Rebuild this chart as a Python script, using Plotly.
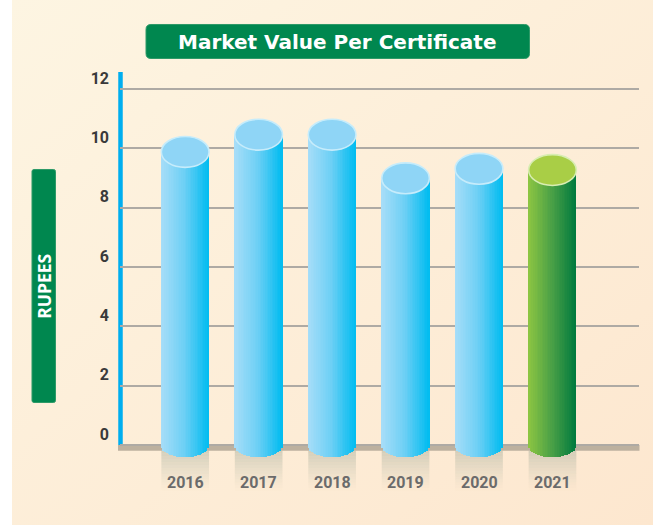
import base64
import numpy as np
import plotly.graph_objects as go

# ---------------- data ----------------
years = ["2016", "2017", "2018", "2019", "2020", "2021"]
values = [9.88, 10.46, 10.46, 8.99, 9.31, 9.27]
y_tick_vals = [0, 2, 4, 6, 8, 10, 12]
y_tick_text = ["0", "2", "4", "6", "8", "10", "12"]
highlight_year = "2021"
chart_title = "Market Value Per Certificate"
axis_label = "RUPEES"

# ---------------- geometry / style ----------------
W, H = 653, 525
ML, MR, MT, MB = 120, 14, 72, 20
PX0, PX1, PY0, PY1 = ML, W - MR, MT, H - MB
PX_PER_UNIT = 29.675
ZERO_PY = 445.1
Y_MAX = (ZERO_PY - PY0) / PX_PER_UNIT
Y_MIN = -(PY1 - ZERO_PY) / PX_PER_UNIT
X_RANGE = [-0.8875, 6.178]

BAR_W = 0.649
TOP_SEMI = 0.52
BOT_SEMI = 0.41
N_STRIPS = 28

GREEN = "#00874f"
NUM_FONT = "Roboto, Liberation Sans Narrow, sans-serif"
TITLE_FONT = "DejaVu Sans, Verdana, sans-serif"
LABEL_FONT = "Open Sans, Noto Sans, sans-serif"


def fx(px):
    return (px - PX0) / (PX1 - PX0)


def fy(py):
    return (PY1 - py) / (PY1 - PY0)


def lerp(c1, c2, t):
    return tuple(int(round(a + (b - a) * t)) for a, b in zip(c1, c2))


def rgb(c):
    return "rgb(%d,%d,%d)" % c


BLUE_STOPS = [(0.0, (168, 222, 248)), (0.5, (108, 207, 245)), (1.0, (0, 188, 240))]
GREEN_STOPS = [(0.0, (142, 198, 66)), (0.5, (74, 160, 70)), (1.0, (0, 122, 62))]


def grad(stops, t):
    for (t0, c0), (t1, c1) in zip(stops[:-1], stops[1:]):
        if t <= t1:
            return lerp(c0, c1, (t - t0) / (t1 - t0))
    return stops[-1][1]


# ---------------- cylinder strips (one bar trace) ----------------
bx, by, bb, bw, bc = [], [], [], [], []
for i, (yr, v) in enumerate(zip(years, values)):
    stops = GREEN_STOPS if yr == highlight_year else BLUE_STOPS
    for k in range(N_STRIPS):
        u = -1 + (2 * k + 1) / N_STRIPS
        bottom = -BOT_SEMI * np.sqrt(max(0.0, 1 - u * u))
        bx.append(i + u * BAR_W / 2)
        bb.append(bottom)
        by.append(v - bottom)
        bw.append(BAR_W / N_STRIPS * 1.12)
        bc.append(rgb(grad(stops, (k + 0.5) / N_STRIPS)))

fig = go.Figure(
    go.Bar(
        x=bx, y=by, base=bb, width=bw,
        marker=dict(color=bc, line=dict(width=0)),
        hoverinfo="skip", showlegend=False,
    )
)

shapes = []
# floor band
shapes.append(dict(type="rect", xref="paper", yref="y", x0=fx(118), x1=fx(639.5),
                   y0=0.0, y1=-0.19, fillcolor="#bdb19f", line=dict(width=0), layer="between"))
# blue axis line
shapes.append(dict(type="line", xref="paper", yref="y", x0=fx(120.5), x1=fx(120.5),
                   y0=0.0, y1=Y_MAX, line=dict(color="#00aeef", width=4.5), layer="between"))

# shadows under each cylinder
n_sh = 14
for i, v in enumerate(values):
    for s in range(n_sh):
        y0 = -0.19 - s * (1.35 / n_sh)
        y1 = y0 - 1.35 / n_sh
        op = 0.45 * (1 - s / n_sh) ** 1.3
        shapes.append(dict(type="rect", xref="x", yref="y",
                           x0=i - BAR_W / 2, x1=i + BAR_W / 2, y0=y0, y1=y1,
                           fillcolor="rgb(165,172,155)", opacity=op,
                           line=dict(width=0), layer="between"))

# top ellipses
for i, (yr, v) in enumerate(zip(years, values)):
    if yr == highlight_year:
        fill, edge = "#a9ce46", "#d8edb2"
    else:
        fill, edge = "#8fd5f6", "#c6ecfb"
    shapes.append(dict(type="circle", xref="x", yref="y",
                       x0=i - BAR_W / 2, x1=i + BAR_W / 2,
                       y0=v - TOP_SEMI, y1=v + TOP_SEMI,
                       fillcolor=fill, line=dict(color=edge, width=1.6), layer="above"))


def rounded_rect(x0, y0, x1, y1, r):
    pts = [
        ("M", [(x0 + r, y0)]), ("L", [(x1 - r, y0)]), ("Q", [(x1, y0), (x1, y0 + r)]),
        ("L", [(x1, y1 - r)]), ("Q", [(x1, y1), (x1 - r, y1)]), ("L", [(x0 + r, y1)]),
        ("Q", [(x0, y1), (x0, y1 - r)]), ("L", [(x0, y0 + r)]), ("Q", [(x0, y0), (x0 + r, y0)]),
    ]
    out = []
    for cmd, ps in pts:
        out.append(cmd + " " + " ".join("%.5f,%.5f" % (fx(a), fy(b)) for a, b in ps))
    return " ".join(out) + " Z"


# title box and axis label box
shapes.append(dict(type="path", xref="paper", yref="paper",
                   path=rounded_rect(146, 24.5, 529.5, 58.5, 5),
                   fillcolor=GREEN, line=dict(color="#2e9a68", width=1), layer="above"))
shapes.append(dict(type="path", xref="paper", yref="paper",
                   path=rounded_rect(32, 169.5, 55.5, 402.5, 2),
                   fillcolor=GREEN, line=dict(color="#2e9a68", width=1), layer="above"))

annotations = [
    dict(text="<b>%s</b>" % chart_title, xref="paper", yref="paper",
         x=fx(337.5), y=fy(41.8), xanchor="center", yanchor="middle", showarrow=False,
         font=dict(family=TITLE_FONT, size=20, color="white")),
    dict(text="<b>%s</b>" % axis_label, xref="paper", yref="paper",
         x=fx(43.8), y=fy(286), xanchor="center", yanchor="middle", showarrow=False,
         textangle=-90, font=dict(family=LABEL_FONT, size=17.5, color="white")),
]
for i, yr in enumerate(years):
    annotations.append(dict(text="<b>%s</b>" % yr, xref="x", yref="y", x=i,
                            y=-(482 - ZERO_PY) / PX_PER_UNIT,
                            xanchor="center", yanchor="middle", showarrow=False,
                            font=dict(family=NUM_FONT, size=16, color="#6b6b6b")))

# background gradient card
svg = ("<svg xmlns='http://www.w3.org/2000/svg' width='641' height='525' viewBox='0 0 641 525' "
       "preserveAspectRatio='none'><defs><linearGradient id='g' x1='0' y1='0' x2='1' y2='1'>"
       "<stop offset='0' stop-color='#fdf5e2'/><stop offset='1' stop-color='#fde7cf'/>"
       "</linearGradient></defs><rect width='641' height='525' fill='url(#g)'/></svg>")
bg_src = "data:image/svg+xml;base64," + base64.b64encode(svg.encode()).decode()

fig.update_layout(
    width=W, height=H,
    margin=dict(l=ML, r=MR, t=MT, b=MB, pad=0),
    paper_bgcolor="white", plot_bgcolor="rgba(0,0,0,0)",
    bargap=0, barmode="overlay",
    shapes=shapes, annotations=annotations,
    images=[dict(source=bg_src, xref="paper", yref="paper",
                 x=fx(12), y=fy(0), sizex=fx(W) - fx(12), sizey=fy(0) - fy(H),
                 xanchor="left", yanchor="top", sizing="stretch", layer="below")],
    xaxis=dict(range=X_RANGE, showgrid=False, zeroline=False, showline=False,
               showticklabels=False, ticks="", fixedrange=True),
    yaxis=dict(range=[Y_MIN, Y_MAX], tickvals=y_tick_vals, ticktext=y_tick_text,
               showgrid=True, gridcolor="#aeaaa4", gridwidth=1.5, zeroline=False,
               showline=False, ticks="", ticklabelshift=-11, ticklabelstandoff=10,
               tickfont=dict(family=NUM_FONT, size=16, color="#3a3a3a", weight="bold"),
               fixedrange=True),
    showlegend=False,
)

fig.write_html("out.html", config={"displayModeBar": False},
               post_script="document.body.style.margin='0';document.body.style.padding='0';")
